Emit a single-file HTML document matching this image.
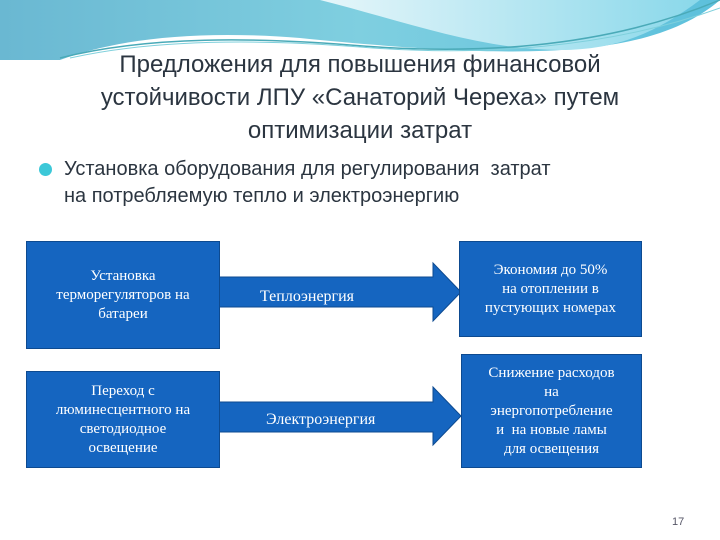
<!DOCTYPE html>
<html><head><meta charset="utf-8"><style>
body{margin:0;width:720px;height:540px;overflow:hidden;background:#fff;font-family:"Liberation Sans",sans-serif;position:relative}
.t{position:absolute;left:0;width:720px;text-align:center;font-size:24px;line-height:33px;color:#2b3540;top:48px}
.b{position:absolute;left:64px;top:156px;font-size:20px;line-height:27px;color:#2b3540}
.dot{position:absolute;left:39px;top:163px;width:13px;height:13px;border-radius:50%;background:#3cc8d8}
.box{position:absolute;background:#1565c0;border:1px solid #0d4a90;color:#fff;font-family:"Liberation Serif",serif;font-size:15px;line-height:19px;text-align:center;display:flex;align-items:center;justify-content:center;box-sizing:border-box}
.lab{position:absolute;color:#fff;font-family:"Liberation Serif",serif;font-size:16px;line-height:18px}
</style></head><body>
<svg width="720" height="60" style="position:absolute;left:0;top:0">
<defs><linearGradient id="g" x1="0" x2="1"><stop offset="0" stop-color="#6ab8d2"/><stop offset="0.5" stop-color="#7fcfe0"/><stop offset="1" stop-color="#5cc0dc"/></linearGradient>
<linearGradient id="g2" x1="0" x2="1"><stop offset="0" stop-color="#e6f6fa"/><stop offset="1" stop-color="#8ad8ea"/></linearGradient></defs>
<path d="M0 0H720V0 C650 60 520 60 300 38 C200 30 120 38 60 60 H0Z" fill="url(#g)"/>
<path d="M320 0H700 C660 30 620 50 560 50 C480 50 400 20 320 0Z" fill="url(#g2)"/>
<path d="M60 58 C150 35 260 38 350 45 C470 55 600 50 720 0" stroke="#4aaab8" stroke-width="1.5" fill="none"/>
<path d="M70 58 C160 38 270 40 360 47 C480 57 610 48 720 8" stroke="#7fd0dc" stroke-width="1" fill="none"/>
</svg>
<div class="t">Предложения для повышения финансовой<br>устойчивости ЛПУ «Санаторий Череха» путем<br>оптимизации затрат</div>
<div class="dot"></div>
<div class="b">Установка оборудования для регулирования&nbsp; затрат<br>на потребляемую тепло и электроэнергию</div>
<svg width="720" height="540" style="position:absolute;left:0;top:0">
<path d="M219 277H433V263L461 292L433 321V307H219Z" fill="#1565c0" stroke="#0d4a90"/>
<path d="M219 402H433V387L461 416L433 445V432H219Z" fill="#1565c0" stroke="#0d4a90"/>
</svg>
<div class="box" style="left:26px;top:241px;width:194px;height:108px">Установка<br>терморегуляторов на<br>батареи</div>
<div class="box" style="left:459px;top:241px;width:183px;height:96px">Экономия до 50%<br>на отоплении в<br>пустующих номерах</div>
<div class="box" style="left:26px;top:371px;width:194px;height:97px">Переход с<br>люминесцентного на<br>светодиодное<br>освещение</div>
<div class="box" style="left:461px;top:354px;width:181px;height:114px">Снижение расходов<br>на<br>энергопотребление<br>и&nbsp; на новые ламы<br>для освещения</div>
<div class="lab" style="left:260px;top:288px">Теплоэнергия</div>
<div class="lab" style="left:266px;top:411px">Электроэнергия</div>
<div style="position:absolute;left:672px;top:516px;font-size:11px;color:#556">17</div>
</body></html>
